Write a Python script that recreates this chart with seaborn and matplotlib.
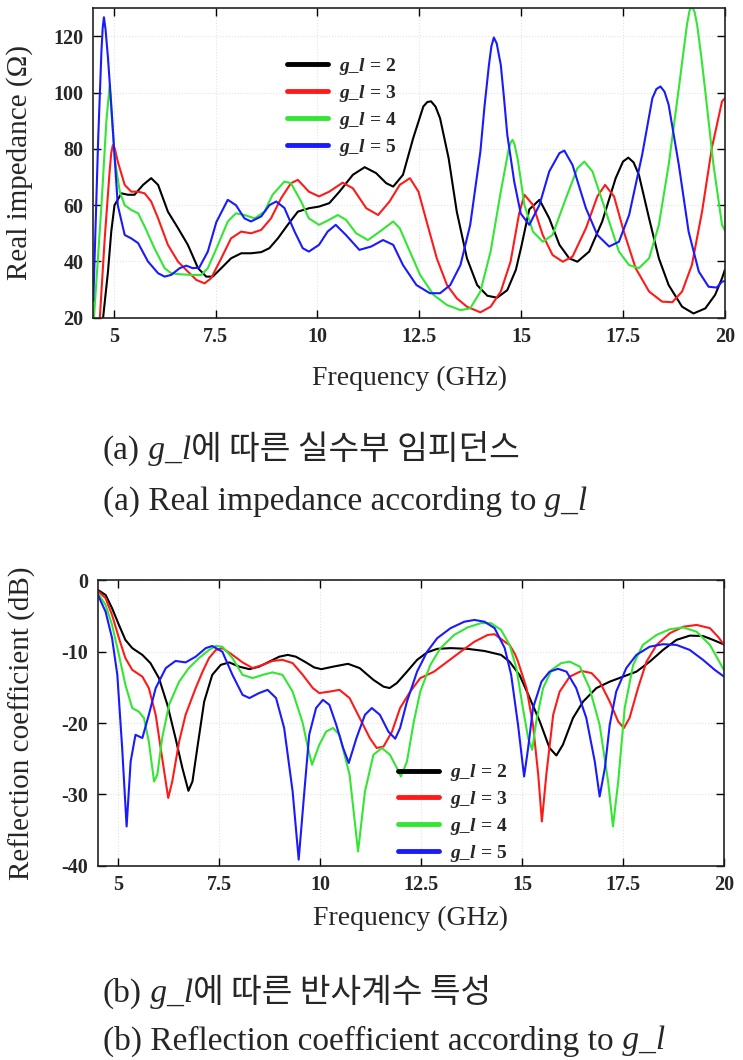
import matplotlib
matplotlib.use("Agg")
import pandas as pd
import matplotlib.pyplot as plt
from matplotlib.lines import Line2D
import seaborn as sns

# ---------------- data ----------------
series = ["g_l = 2", "g_l = 3", "g_l = 4", "g_l = 5"]
legend_labels = [r"$\mathbf{g\_l}$ = 2", r"$\mathbf{g\_l}$ = 3",
                 r"$\mathbf{g\_l}$ = 4", r"$\mathbf{g\_l}$ = 5"]
colors = ["#000000", "#ff1a1a", "#33e633", "#1a1aff"]

xticks = [5, 7.5, 10, 12.5, 15, 17.5, 20]
xtick_labels = ["5", "7.5", "10", "12.5", "15", "17.5", "20"]
imp_yticks = [20, 40, 60, 80, 100, 120]
ref_yticks = [0, -10, -20, -30, -40]

# (a) real impedance (ohm) vs frequency (GHz)
imp_f2 = [4.70, 4.74, 4.86, 4.94, 5.02, 5.19, 5.35, 5.51, 5.72, 5.92, 6.09, 6.33, 6.58, 6.82,
          7.07, 7.27, 7.43, 7.64, 7.88, 8.13, 8.37, 8.62, 8.82, 9.03, 9.27, 9.52, 9.79, 10.04,
          10.29, 10.54, 10.87, 11.16, 11.44, 11.69, 11.86, 12.10, 12.35, 12.60, 12.70, 12.79,
          12.90, 13.01, 13.22, 13.42, 13.67, 13.92, 14.17, 14.41, 14.66, 14.87, 15.00, 15.20,
          15.45, 15.69, 15.94, 16.18, 16.38, 16.67, 16.99, 17.32, 17.50, 17.63, 17.76, 17.89,
          18.14, 18.38, 18.62, 18.95, 19.23, 19.52, 19.76, 19.93, 20.00]
imp_v2 = [18, 20, 36.4, 50.6, 60, 64.2, 63.7, 63.7, 67.2, 69.6, 67.2, 57.7, 51.8, 45.9,
          37.6, 34.6, 34.6, 37.6, 41.1, 42.9, 42.9, 43.3, 44.7, 48.2, 53, 57.7, 58.9, 59.5,
          60.7, 64.8, 70.8, 73.5, 71.4, 67.8, 66.6, 70.8, 83.8, 95.1, 96.7, 96.9,
          95, 90.9, 76.7, 57.7, 41.1, 31.6, 27.8, 27.1, 29.8, 37, 45, 58.5,
          61.9, 55.3, 45.9, 41.1, 39.9, 43.5, 54.2, 69.6, 75.5, 76.9, 75.2, 70.8,
          55.3, 41.1, 31.6, 23.9, 21.5, 23.3, 28.1, 34, 37]

imp_f3 = [4.62, 4.66, 4.78, 4.90, 4.94, 4.98, 5.03, 5.10, 5.27, 5.43, 5.60, 5.76, 5.92, 6.09,
          6.33, 6.58, 6.82, 7.03, 7.23, 7.39, 7.64, 7.88, 8.13, 8.37, 8.62, 8.86, 9.11, 9.35,
          9.52, 9.79, 10.04, 10.29, 10.62, 10.87, 11.20, 11.49, 11.77, 12.02, 12.27, 12.48,
          12.68, 12.93, 13.18, 13.42, 13.67, 14.00, 14.25, 14.50, 14.74, 14.95, 15.08, 15.29,
          15.53, 15.77, 16.02, 16.26, 16.59, 16.87, 17.06, 17.28, 17.52, 17.81, 18.14, 18.46,
          18.71, 18.95, 19.19, 19.44, 19.68, 19.93, 20.00]
imp_v3 = [18, 20, 48.2, 72, 78.5, 81.4, 80, 75.5, 67.2, 64.8, 64.8, 64.2, 61.3, 55.3,
          45.9, 39.9, 36.4, 33.4, 32.2, 34, 41.1, 48.2, 50.6, 50, 51.2, 55.3, 62.5, 67.8,
          69, 64.8, 63.1, 64.8, 68, 66, 58.9, 56.5, 61.3, 67.2, 69.6, 64.8,
          54.2, 41.1, 31.6, 26.9, 23.9, 21.9, 23.9, 29.3, 39.9, 57, 63.7, 60.1,
          49.4, 42.3, 39.9, 41.7, 51.8, 63.1, 67.2, 63.1, 50.6, 37.6, 29.3, 25.7,
          25.5, 29.3, 38.7, 57.7, 80.3, 96.9, 98]

imp_f4 = [4.50, 4.52, 4.70, 4.82, 4.90, 4.97, 5.03, 5.15, 5.27, 5.43, 5.60, 5.76, 6.00, 6.25,
          6.41, 6.66, 6.90, 7.15, 7.31, 7.56, 7.80, 8.00, 8.21, 8.46, 8.70, 8.90, 9.19, 9.35,
          9.60, 9.79, 10.04, 10.29, 10.50, 10.70, 10.95, 11.24, 11.53, 11.86, 12.02, 12.27,
          12.52, 12.85, 13.18, 13.51, 13.75, 14.00, 14.25, 14.50, 14.70, 14.75, 14.79, 14.84,
          14.92, 15.08, 15.29, 15.53, 15.77, 16.10, 16.38, 16.55, 16.75, 17.08, 17.40, 17.65,
          17.89, 18.14, 18.38, 18.62, 18.87, 18.97, 19.07, 19.13, 19.19, 19.26, 19.32, 19.42,
          19.52, 19.72, 19.93, 20.00]
imp_v4 = [18, 21, 60, 89.8, 102.5, 88, 76, 64.8, 60, 58.3, 57.1, 52.4, 44.7, 37.6,
          35.8, 35.4, 35.2, 35.2, 37.6, 45.9, 54.2, 57.1, 56.5, 55.3, 57.7, 63.7, 68.4, 67.8,
          61.3, 55.3, 53, 54.8, 56.5, 54.8, 50, 47.6, 50.6, 54.2, 51.8, 43.5,
          35.2, 28.1, 24.5, 22.7, 23.3, 29.3, 43.5, 64.8, 80.3, 82.5, 83.2, 81.5,
          76, 60.1, 50.6, 47, 49.4, 62.5, 73.1, 75.5, 72, 57.7, 43.5, 38.7,
          37.6, 41.1, 53, 74.3, 101.6, 113, 124.2, 129, 131, 128.5, 124, 113,
          100.4, 74.3, 53, 51]

imp_f5 = [4.50, 4.62, 4.70, 4.73, 4.76, 4.80, 4.86, 4.94, 5.10, 5.27, 5.43, 5.60, 5.84, 6.09,
          6.25, 6.41, 6.62, 6.78, 6.94, 7.10, 7.31, 7.52, 7.80, 8.00, 8.21, 8.37, 8.62, 8.82,
          8.99, 9.19, 9.44, 9.64, 9.79, 10.04, 10.25, 10.45, 10.70, 11.03, 11.32, 11.61,
          11.86, 12.10, 12.43, 12.76, 13.01, 13.26, 13.51, 13.75, 14.00, 14.10, 14.21, 14.27,
          14.33, 14.40, 14.50, 14.58, 14.66, 14.83, 14.99, 15.20, 15.45, 15.69, 15.94, 16.06,
          16.26, 16.59, 16.87, 17.16, 17.40, 17.65, 17.97, 18.22, 18.32, 18.42, 18.52, 18.62,
          18.87, 19.11, 19.36, 19.60, 19.80, 19.93, 20.00]
imp_v5 = [26, 83.8, 115, 123, 126.8, 122.5, 112.3, 95.7, 60, 49.4, 48.2, 46.5, 40, 35.8,
          34.6, 35.2, 37.6, 38.5, 37.6, 37.8, 43.5, 54, 61.9, 60, 55.3, 54.2, 56, 60,
          61.3, 59, 50.6, 44.7, 43.5, 45.9, 50.6, 53, 49.4, 44.1, 45.3, 47.6,
          45.9, 38.7, 31.6, 28.7, 28.7, 31.6, 38.7, 53, 79.1, 95, 109.9, 116.5,
          119.6, 117.5, 109.9, 98, 85, 68.4, 57, 53, 60.1, 72, 78.5, 79.4,
          74.3, 58.9, 49.4, 45.3, 47, 56.5, 77.9, 98, 101.3, 102.2, 100.3, 95.7,
          74.3, 50.6, 36.4, 31, 30.7, 32.8, 33]

# (b) reflection coefficient (dB) vs frequency (GHz)
ref_f2 = [4.50, 4.69, 4.85, 5.02, 5.18, 5.35, 5.60, 5.80, 6.01, 6.22, 6.42, 6.59, 6.74, 6.84,
          6.96, 7.13, 7.33, 7.54, 7.75, 8.00, 8.25, 8.49, 8.74, 8.99, 9.20, 9.40, 9.65, 9.85,
          10.03, 10.32, 10.69, 10.98, 11.32, 11.57, 11.72, 11.90, 12.15, 12.40, 12.65, 12.90,
          13.23, 13.65, 14.07, 14.48, 14.69, 14.94, 15.19, 15.44, 15.68, 15.85, 16.01, 16.26,
          16.51, 16.84, 17.17, 17.50, 17.83, 18.16, 18.49, 18.82, 19.15, 19.48, 19.73, 20.00]
ref_v2 = [-1.35, -2.05, -3.9, -6.25, -8.35, -9.5, -10.45, -11.6, -13.7, -17.45, -22.1, -26.3, -29.5, -28.2,
          -23.5, -17, -13.25, -11.85, -11.5, -12.1, -12.45, -12.1, -11.4, -10.7, -10.45, -10.7, -11.5, -12.2,
          -12.45, -12.1, -11.7, -12.3, -13.95, -14.9, -15.1, -14.4, -12.8, -11.15, -10.1, -9.6,
          -9.5, -9.6, -9.9, -10.45, -11.4, -13.3, -16.5, -19.8, -23.5, -24.55, -23.05, -19.3,
          -17, -15.1, -14.2, -13.5, -12.8, -11.4, -9.75, -8.35, -7.75, -7.8, -8.35, -9.0]

ref_f3 = [4.50, 4.69, 4.85, 5.02, 5.18, 5.35, 5.60, 5.76, 5.93, 6.09, 6.24, 6.34, 6.51, 6.67,
          6.92, 7.09, 7.25, 7.42, 7.58, 7.83, 8.08, 8.33, 8.58, 8.82, 9.07, 9.32, 9.57, 9.82,
          9.98, 10.23, 10.48, 10.73, 10.98, 11.23, 11.40, 11.57, 11.78, 11.98, 12.23, 12.48,
          12.82, 13.15, 13.48, 13.82, 14.15, 14.32, 14.57, 14.69, 14.82, 14.90, 15.11, 15.27,
          15.40, 15.49, 15.60, 15.77, 15.93, 16.18, 16.47, 16.72, 16.92, 17.17, 17.38, 17.52,
          17.66, 17.87, 18.08, 18.33, 18.66, 18.99, 19.32, 19.65, 19.85, 20.00]
ref_v3 = [-1.5, -2.5, -4.85, -8.1, -10.9, -12.55, -13.5, -15.1, -18.85, -24.9, -30.5, -28.2, -22.6, -18.85,
          -15.1, -12.8, -10.9, -9.75, -9.5, -10.45, -11.5, -12.3, -11.85, -11.3, -11.15, -11.6, -13.25, -15.1,
          -15.8, -15.6, -15.35, -16.5, -19.3, -22.1, -23.5, -23.3, -21.2, -17.9, -15.6, -13.7,
          -12.8, -11.4, -10, -8.6, -7.65, -7.55, -8.6, -9.05, -10.3, -11.4, -15.1, -20.25,
          -27.25, -33.8, -27.25, -18.85, -15.6, -13.5, -12.7, -13, -14.2, -17, -19.8, -20.7,
          -19.3, -15.1, -11.4, -9.05, -7.4, -6.5, -6.25, -6.7, -7.9, -9.05]

ref_f4 = [4.50, 4.69, 4.85, 5.02, 5.18, 5.35, 5.51, 5.64, 5.76, 5.89, 5.97, 6.09, 6.26, 6.51,
          6.75, 7.00, 7.25, 7.42, 7.58, 7.83, 8.08, 8.33, 8.58, 8.82, 9.07, 9.32, 9.57, 9.70,
          9.80, 9.98, 10.15, 10.32, 10.48, 10.73, 10.94, 11.11, 11.32, 11.53, 11.73, 11.90,
          12.00, 12.15, 12.32, 12.48, 12.73, 12.98, 13.32, 13.65, 13.98, 14.23, 14.48, 14.69,
          14.86, 15.02, 15.15, 15.25, 15.35, 15.52, 15.73, 15.97, 16.18, 16.43, 16.67, 16.92,
          17.13, 17.25, 17.38, 17.54, 17.75, 17.99, 18.33, 18.66, 18.99, 19.32, 19.65, 20.00]
ref_v4 = [-1.8, -3.45, -6.25, -10.45, -14.65, -17.9, -18.4, -19.3, -22.6, -28.2, -27.25, -22.1, -17.45, -14.2,
          -12.3, -10.9, -9.75, -9.2, -9.3, -10.9, -13.25, -13.7, -13.25, -12.9, -13.25, -15.6, -20.0, -23.5,
          -25.85, -23.05, -21.2, -20.7, -21.65, -27.25, -38, -29.6, -24.45, -23.5, -24.45, -26.3,
          -27.5, -25.4, -19.8, -15.6, -11.85, -9.5, -7.65, -6.6, -6.0, -6.0, -6.95, -9.05,
          -12.3, -17.9, -22.1, -23.75, -19.8, -15.1, -12.55, -11.6, -11.4, -12.1, -15.1, -20.25,
          -28.2, -34.5, -28.2, -17.9, -11.85, -9.05, -7.65, -6.85, -6.6, -7.2, -9.05, -12.6]

ref_f5 = [4.50, 4.69, 4.85, 4.98, 5.10, 5.21, 5.31, 5.43, 5.60, 5.76, 5.93, 6.18, 6.42, 6.67,
          6.92, 7.17, 7.33, 7.58, 7.83, 8.08, 8.25, 8.49, 8.70, 8.91, 9.11, 9.32, 9.47, 9.61,
          9.73, 9.90, 10.07, 10.23, 10.40, 10.57, 10.71, 10.90, 11.11, 11.28, 11.48, 11.69,
          11.86, 11.98, 12.15, 12.40, 12.65, 12.90, 13.23, 13.57, 13.82, 14.07, 14.32, 14.57,
          14.73, 14.90, 15.05, 15.15, 15.27, 15.48, 15.68, 15.89, 16.10, 16.34, 16.59, 16.80,
          16.92, 17.05, 17.17, 17.33, 17.58, 17.83, 18.16, 18.49, 18.82, 19.15, 19.48, 19.77, 20.00]
ref_v5 = [-2.05, -4.4, -8.1, -13.25, -23.5, -34.5, -25.4, -21.65, -22.1, -18.85, -15.1, -12.3, -11.3, -11.5,
          -10.7, -9.5, -9.2, -10, -13.25, -16.05, -16.5, -15.8, -15.35, -16.5, -20.7, -29.6, -39.15, -29.6,
          -21.65, -17.9, -16.75, -17.45, -20.25, -23.5, -25.6, -22.1, -18.85, -17.9, -18.85, -21.2,
          -22.2, -20.7, -17, -12.8, -10, -8.1, -6.7, -5.8, -5.55, -5.8, -6.7, -9.5,
          -13.25, -20.25, -27.5, -23.5, -17.9, -14.2, -12.8, -12.4, -12.8, -15.1, -19.3, -25.4,
          -30.3, -26.3, -20.25, -15.6, -12.3, -10.45, -9.3, -8.95, -9.05, -9.75, -11.15, -12.55, -13.5]


def long_df(pairs):
    frames = [pd.DataFrame({"freq": f, "val": v, "series": name})
              for name, (f, v) in zip(series, pairs)]
    return pd.concat(frames, ignore_index=True)


imp_df = long_df([(imp_f2, imp_v2), (imp_f3, imp_v3), (imp_f4, imp_v4), (imp_f5, imp_v5)])
ref_df = long_df([(ref_f2, ref_v2), (ref_f3, ref_v3), (ref_f4, ref_v4), (ref_f5, ref_v5)])

# ---------------- styling ----------------
sns.set_theme(style="white")
plt.rcParams["font.family"] = ["Liberation Serif", "Noto Sans CJK KR"]
plt.rcParams["mathtext.fontset"] = "custom"
plt.rcParams["mathtext.bf"] = "Liberation Serif:italic:bold"
plt.rcParams["axes.unicode_minus"] = False

fig = plt.figure(figsize=(7.43, 10.6), dpi=100)
ax1 = fig.add_axes([0.1256, 0.7003, 0.850, 0.2919])
ax2 = fig.add_axes([0.1318, 0.1833, 0.8427, 0.2692])

palette = dict(zip(series, colors))
for ax, df in [(ax1, imp_df), (ax2, ref_df)]:
    sns.lineplot(data=df, x="freq", y="val", hue="series", palette=palette,
                 estimator=None, sort=False, legend=False, linewidth=1.5, ax=ax)


def style_axes(ax, ylim, yticks, ylabel, ylab_x, xlab_y):
    ax.set_xlim(4.5, 20)
    ax.set_ylim(*ylim)
    ax.set_xticks(xticks)
    ax.set_xticklabels(xtick_labels)
    ax.set_yticks(yticks)
    ax.set_yticklabels([str(t) for t in yticks])
    ax.tick_params(direction="in", bottom=True, left=True, top=True, right=True,
                   length=6, width=1, labelsize=14.5, pad=7, color="black")
    for lab in ax.get_xticklabels() + ax.get_yticklabels():
        lab.set_fontweight("bold")
    ax.grid(True, color="#e2e2e2", linestyle=":", linewidth=0.8)
    for sp in ax.spines.values():
        sp.set_visible(True)
        sp.set_color("#222222")
        sp.set_linewidth(1.2)
    ax.set_xlabel("Frequency (GHz)", fontsize=20)
    ax.set_ylabel(ylabel, fontsize=21)
    ax.yaxis.set_label_coords(ylab_x, 0.5)
    ax.xaxis.set_label_coords(0.5, xlab_y)


style_axes(ax1, (20, 130), imp_yticks, "Real impedance (Ω)", -0.095, -0.155)
style_axes(ax2, (-40, 0), ref_yticks, "Reflection coefficient (dB)", -0.099, -0.14)

handles = [Line2D([], [], color=c, lw=3.5) for c in colors]
leg_kw = dict(loc="upper left", frameon=False, borderaxespad=0, borderpad=0,
              handlelength=2.1, handletextpad=0.6, labelspacing=0.3,
              prop=dict(family="Liberation Serif", weight="bold", size=14))
ax1.legend(handles, legend_labels, bbox_to_anchor=(0.3065, 0.845), **leg_kw)
ax2.legend(handles, legend_labels, bbox_to_anchor=(0.479, 0.362), **leg_kw)

# ---------------- captions ----------------
renderer = fig.canvas.get_renderer()
serif = dict(family="Liberation Serif")
serif_it = dict(family="Liberation Serif", style="italic")
korean = dict(family="Noto Sans CJK KR")


def caption(x, y, parts, size=24):
    for text, kw in parts:
        t = fig.text(x, y, text, fontsize=size, va="baseline", ha="left", **kw)
        x += t.get_window_extent(renderer).width / fig.bbox.width


caption(0.1386, 0.567, [("(a)", serif), (" g_l", serif_it), ("에 따른 실수부 임피던스", korean)])
caption(0.1386, 0.519, [("(a) Real impedance according to", serif), (" g_l", serif_it)])
caption(0.1386, 0.055, [("(b)", serif), (" g_l", serif_it), ("에 따른 반사계수 특성", korean)])
caption(0.1386, 0.010, [("(b) Reflection coefficient according to", serif), (" g_l", serif_it)])

fig.savefig("out.png", dpi=100)
